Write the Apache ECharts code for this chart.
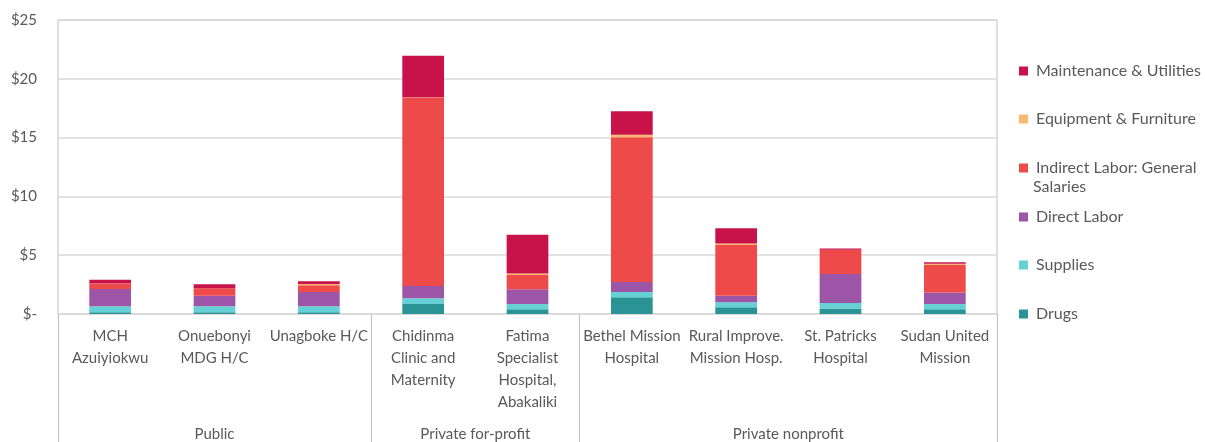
<!DOCTYPE html>
<html>
<head>
<meta charset="utf-8">
<script src="https://cdn.jsdelivr.net/npm/echarts@6/dist/echarts.min.js"></script>
<style>
  html, body { margin: 0; padding: 0; background: #fff; }
  #chart { width: 1205px; height: 442px; }
</style>
</head>
<body>
<div id="chart"></div>
<script>
// facility names (first level) and ownership groups (second level)
const categories = [
  "MCH\nAzuiyiokwu",
  "Onuebonyi\nMDG H/C",
  "Unagboke H/C",
  "Chidinma\nClinic and\nMaternity",
  "Fatima\nSpecialist\nHospital,\nAbakaliki",
  "Bethel Mission\nHospital",
  "Rural Improve.\nMission Hosp.",
  "St. Patricks\nHospital",
  "Sudan United\nMission",
];
const groups = ["Public", "Private for-profit", "Private nonprofit"];
const groupBounds = [0, 3, 5, 9];   // category index where each group starts/ends
const groupCenters = [1.5, 4, 7];

// cost per visit, USD
const drugs         = [0.15, 0.15, 0.15, 0.85, 0.40, 1.43, 0.57, 0.46, 0.40];
const supplies      = [0.50, 0.50, 0.50, 0.48, 0.45, 0.45, 0.42, 0.48, 0.45];
const directLabor   = [1.47, 0.91, 1.22, 1.05, 1.25, 0.85, 0.57, 2.46, 0.97];
const indirectLabor = [0.46, 0.62, 0.57, 16.02, 1.21, 12.31, 4.30, 2.07, 2.34];
const equipment     = [0.02, 0.00, 0.11, 0.03, 0.14, 0.20, 0.14, 0.00, 0.12];
const maintenance   = [0.32, 0.34, 0.23, 3.53, 3.29, 2.00, 1.30, 0.11, 0.11];

const yTicks = [0, 5, 10, 15, 20, 25];

const FONT = "Lato";
const GREY = "#595959";

const seriesDefs = [
  { name: "Drugs", data: drugs, color: "#299396" },
  { name: "Supplies", data: supplies, color: "#65D1D4" },
  { name: "Direct Labor", data: directLabor, color: "#9D55A8" },
  { name: "Indirect Labor: General Salaries", data: indirectLabor, color: "#EF4A4A" },
  { name: "Equipment & Furniture", data: equipment, color: "#F9B96E" },
  { name: "Maintenance & Utilities", data: maintenance, color: "#C8124A" },
];

// legend rows, top to bottom, with the vertical centre of each row
const legendRows = [
  ["Maintenance & Utilities", 70],
  ["Equipment & Furniture", 118],
  ["Indirect Labor: General Salaries", 167],
  ["Direct Labor", 216],
  ["Supplies", 264],
  ["Drugs", 313],
];

const chart = echarts.init(document.getElementById("chart"));

chart.setOption({
  animation: false,
  textStyle: { fontFamily: FONT },
  grid: {
    left: 58, right: 208, top: 20, bottom: 128,
    show: true, borderColor: "#bfbfbf", borderWidth: 1,
  },
  legend: legendRows.map(([name, cy]) => ({
    orient: "vertical",
    left: 1014,
    top: cy - 13,
    data: [name],
    icon: "rect",
    itemWidth: 9,
    itemHeight: 9,
    selectedMode: false,
    formatter: (n) => (n === "Indirect Labor: General Salaries" ? "Indirect Labor: General" : n),
    textStyle: { fontSize: 16, lineHeight: 18, color: GREY, fontFamily: FONT, padding: [0, 0, 0, 3] },
  })),
  graphic: [
    {
      type: "text",
      left: 1033,
      top: 179,
      style: { text: "Salaries", fontSize: 16, fontFamily: FONT, fill: GREY },
    },
  ],
  xAxis: [
    {
      type: "category",
      data: categories,
      axisLine: { show: false },
      axisTick: { show: false },
      axisLabel: {
        interval: 0,
        margin: 11,
        fontSize: 15,
        lineHeight: 22,
        color: GREY,
        fontFamily: FONT,
        align: "center",
        verticalAlign: "top",
      },
    },
    {
      type: "value",
      position: "bottom",
      min: 0,
      max: categories.length,
      axisLine: { show: false },
      splitLine: { show: false },
      axisTick: {
        show: true,
        inside: false,
        length: 128,
        customValues: groupBounds,
        lineStyle: { color: "#bfbfbf", width: 1 },
      },
      axisLabel: {
        show: true,
        margin: 113,
        fontSize: 15,
        color: GREY,
        fontFamily: FONT,
        customValues: groupCenters,
        formatter: (v) => groups[groupCenters.indexOf(v)],
      },
    },
  ],
  yAxis: {
    type: "value",
    min: 0,
    max: yTicks[yTicks.length - 1],
    interval: 5,
    axisLine: { show: false },
    axisTick: { show: false },
    splitLine: { lineStyle: { color: "#d9d9d9", width: 1.5 } },
    axisLabel: {
      margin: 21,
      fontSize: 15,
      color: GREY,
      fontFamily: FONT,
      formatter: (v) => (v === 0 ? "$-" : "$" + v),
    },
  },
  series: seriesDefs.map((s) => ({
    name: s.name,
    type: "bar",
    stack: "cost",
    data: s.data,
    barWidth: "40%",
    itemStyle: { color: s.color },
  })),
});
</script>
</body>
</html>
